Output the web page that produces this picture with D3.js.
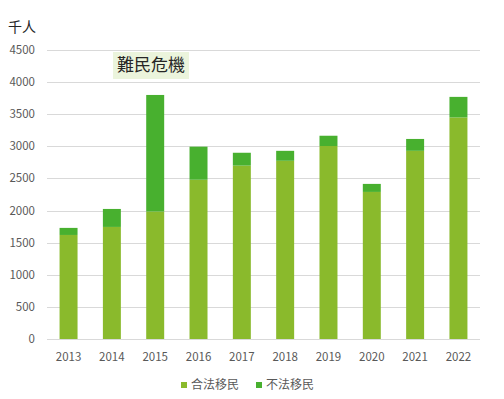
<!DOCTYPE html>
<html>
<head>
<meta charset="utf-8">
<script src="https://cdn.jsdelivr.net/npm/d3@7"></script>
<style>
  body { margin: 0; background: #fff; }
  text { font-family: "Noto Sans CJK SC", "DejaVu Sans", sans-serif; }
</style>
</head>
<body>
<svg id="chart" width="504" height="399"></svg>
<script>
// data (thousand persons)
var years = ["2013", "2014", "2015", "2016", "2017", "2018", "2019", "2020", "2021", "2022"];
var legal = [1620, 1745, 1985, 2480, 2700, 2775, 3005, 2290, 2930, 3450];
var illegal = [110, 280, 1815, 515, 200, 155, 160, 125, 185, 320];
var yTicks = [0, 500, 1000, 1500, 2000, 2500, 3000, 3500, 4000, 4500];
var seriesNames = ["合法移民", "不法移民"];
var colors = ["#8aba2c", "#48b02f"];

var svg = d3.select("#chart");
var margin = {left: 47, right: 24, top: 50, bottom: 60};
var W = 504, H = 399;

var x = d3.scaleBand().domain(years).range([margin.left, W - margin.right]).paddingInner(0.585).paddingOuter(0.29);
var y = d3.scaleLinear().domain([0, 4500]).range([H - margin.bottom, margin.top]);

// gridlines
svg.append("g")
  .selectAll("line")
  .data(yTicks)
  .join("line")
    .attr("x1", margin.left)
    .attr("x2", W - margin.right)
    .attr("y1", function(d){ return Math.round(y(d)) + 0.5; })
    .attr("y2", function(d){ return Math.round(y(d)) + 0.5; })
    .attr("stroke", "#d9d9d9")
    .attr("stroke-width", 1);

// y tick labels
svg.append("g")
  .selectAll("text")
  .data(yTicks)
  .join("text")
    .attr("x", 35)
    .attr("y", function(d){ return y(d); })
    .attr("dy", "0.35em")
    .attr("text-anchor", "end")
    .attr("font-size", "11.5px")
    .attr("fill", "#595959")
    .text(function(d){ return d; });

// x labels
svg.append("g")
  .selectAll("text")
  .data(years)
  .join("text")
    .attr("x", function(d){ return x(d) + x.bandwidth() / 2; })
    .attr("y", 357)
    .attr("dy", "0.35em")
    .attr("text-anchor", "middle")
    .attr("font-size", "11.5px")
    .attr("fill", "#595959")
    .text(function(d){ return d; });

// stacked bars
var rows = years.map(function(yr, i){ return {year: yr, legal: legal[i], illegal: illegal[i]}; });
var stack = d3.stack().keys(["legal", "illegal"])(rows);

svg.append("g")
  .selectAll("g")
  .data(stack)
  .join("g")
    .attr("fill", function(d, i){ return colors[i]; })
  .selectAll("rect")
  .data(function(d){ return d; })
  .join("rect")
    .attr("x", function(d){ return x(d.data.year); })
    .attr("width", x.bandwidth())
    .attr("y", function(d){ return y(d[1]); })
    .attr("height", function(d){ return y(d[0]) - y(d[1]); });

// unit label
svg.append("text")
  .attr("x", 8)
  .attr("y", 27)
  .attr("dy", "0.35em")
  .attr("font-size", "14px")
  .attr("fill", "#262626")
  .text("千人");

// annotation
var ann = svg.append("g");
ann.append("rect")
  .attr("x", 113).attr("y", 52)
  .attr("width", 76).attr("height", 27)
  .attr("fill", "#ebf4dc");
ann.append("text")
  .attr("x", 151).attr("y", 65.5)
  .attr("dy", "0.35em")
  .attr("text-anchor", "middle")
  .attr("font-size", "17px")
  .attr("fill", "#262626")
  .text("難民危機");

// legend
var legendX = [181, 256];
var lg = svg.append("g")
  .selectAll("g")
  .data(seriesNames)
  .join("g")
    .attr("transform", function(d, i){ return "translate(" + legendX[i] + ",385)"; });
lg.append("rect")
  .attr("x", 0).attr("y", -3)
  .attr("width", 6).attr("height", 6)
  .attr("fill", function(d, i){ return colors[i]; });
lg.append("text")
  .attr("x", 10)
  .attr("dy", "0.35em")
  .attr("font-size", "12px")
  .attr("fill", "#595959")
  .text(function(d){ return d; });
</script>
</body>
</html>
